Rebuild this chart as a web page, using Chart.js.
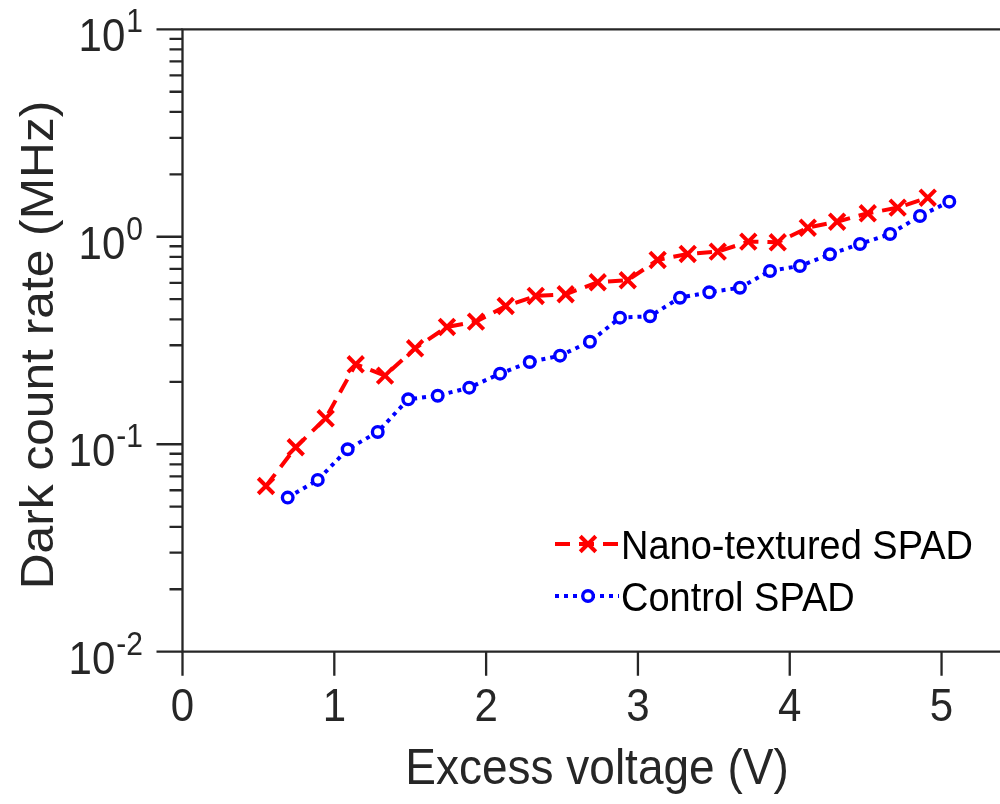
<!DOCTYPE html>
<html>
<head>
<meta charset="utf-8">
<title>Dark count rate vs excess voltage</title>
<script src="https://cdn.jsdelivr.net/npm/chart.js@4.4.1/dist/chart.umd.min.js"></script>
<style>
  html, body { margin: 0; padding: 0; background: #ffffff; }
  #chart { display: block; }
</style>
</head>
<body>
<canvas id="chart" width="1000" height="804"></canvas>
<script>
// values (x in V, y in MHz)
const nanoX = [0.550, 0.746, 0.943, 1.141, 1.334, 1.532, 1.742, 1.933, 2.129, 2.327, 2.524, 2.735,
               2.933, 3.130, 3.328, 3.526, 3.727, 3.921, 4.119, 4.312, 4.514, 4.711, 4.909];
const nanoY = [0.0629, 0.0967, 0.1334, 0.2429, 0.2141, 0.2901, 0.3674, 0.3897, 0.4638, 0.5184, 0.5283, 0.6036,
               0.6171, 0.7731, 0.8263, 0.8476, 0.9471, 0.9408, 1.106, 1.182, 1.298, 1.381, 1.543];

const controlX = [0.693, 0.891, 1.088, 1.286, 1.487, 1.681, 1.889, 2.092, 2.287, 2.487, 2.684, 2.882,
                  3.080, 3.277, 3.470, 3.672, 3.870, 4.067, 4.265, 4.463, 4.661, 4.858, 5.051];
const controlY = [0.0553, 0.0673, 0.0946, 0.1146, 0.1647, 0.1714, 0.1874, 0.2189, 0.2491, 0.2673, 0.3120, 0.4074,
                  0.4138, 0.5086, 0.5401, 0.5683, 0.6842, 0.7235, 0.8234, 0.9232, 1.0316, 1.2596, 1.4763];

const seriesNames = ["Nano-textured SPAD", "Control SPAD"];
const xTicks = [0, 1, 2, 3, 4, 5];
const yDecades = [-2, -1, 0, 1];
const xTitle = "Excess voltage (V)";
const yTitle = "Dark count rate (MHz)";

const FONT = "'Liberation Sans', Arial, Helvetica, sans-serif";
const AXIS_COLOR = "#262626";
const TEXT_STRETCH = 1.08; // the original figure's text is a bit taller than wide

function toPoints(xs, ys) {
    return xs.map((x, i) => ({ x: x, y: ys[i] }));
}

function tallText(ctx, text, x, y, rotate) {
    ctx.save();
    ctx.translate(x, y);
    ctx.scale(1, TEXT_STRETCH);
    if (rotate) ctx.rotate(-Math.PI / 2);
    ctx.fillText(text, 0, 0);
    ctx.restore();
}

// draws axes box, ticks, tick labels, titles and legend
const matlabAxes = {
    id: "matlabAxes",
    afterDraw(chart) {
        const ctx = chart.ctx;
        const area = chart.chartArea;
        const xs = chart.scales.x;
        const ys = chart.scales.y;

        ctx.save();
        ctx.strokeStyle = AXIS_COLOR;
        ctx.lineWidth = 2.3;
        ctx.setLineDash([]);
        ctx.lineCap = "butt";

        // box lines (no right side)
        ctx.beginPath();
        ctx.moveTo(area.left, area.top);
        ctx.lineTo(1000, area.top);
        ctx.moveTo(area.left, area.bottom);
        ctx.lineTo(1000, area.bottom);
        ctx.moveTo(area.left, area.top - 1);
        ctx.lineTo(area.left, area.bottom + 1);
        ctx.stroke();

        // y ticks, major + minor
        ctx.beginPath();
        yDecades.forEach((d) => {
            const py = ys.getPixelForValue(Math.pow(10, d));
            ctx.moveTo(area.left - 26, py);
            ctx.lineTo(area.left, py);
            if (d < 1) {
                for (let m = 2; m <= 9; m++) {
                    const pm = ys.getPixelForValue(m * Math.pow(10, d));
                    ctx.moveTo(area.left - 13, pm);
                    ctx.lineTo(area.left, pm);
                }
            }
        });
        // x ticks
        xTicks.forEach((t) => {
            const px = xs.getPixelForValue(t);
            ctx.moveTo(px, area.bottom);
            ctx.lineTo(px, area.bottom + 24);
        });
        ctx.stroke();

        ctx.fillStyle = AXIS_COLOR;

        // x tick labels
        ctx.font = "42px " + FONT;
        ctx.textAlign = "center";
        ctx.textBaseline = "alphabetic";
        xTicks.forEach((t) => {
            tallText(ctx, String(t), xs.getPixelForValue(t), 721);
        });

        // y tick labels 10^n
        yDecades.forEach((d) => {
            const py = ys.getPixelForValue(Math.pow(10, d));
            const expText = d < 0 ? "-" + Math.abs(d) : String(d);
            ctx.font = "30px " + FONT;
            const expW = ctx.measureText(expText).width;
            const right = 143;
            ctx.textAlign = "left";
            tallText(ctx, expText, right - expW, py + 3);
            ctx.font = "42px " + FONT;
            ctx.textAlign = "right";
            tallText(ctx, "10", right - expW - 1, py + 22);
        });

        // axis titles
        ctx.font = "46px " + FONT;
        ctx.textAlign = "center";
        tallText(ctx, xTitle, 597, 784);
        tallText(ctx, yTitle, 53, 345, true);

        // legend
        const rows = [
            { ds: chart.data.datasets[0], y: 544, base: 559 },
            { ds: chart.data.datasets[1], y: 596, base: 611 }
        ];
        rows.forEach((r, i) => {
            const ds = r.ds;
            ctx.strokeStyle = ds.borderColor;
            ctx.lineWidth = ds.borderWidth;
            ctx.setLineDash(ds.borderDash);
            ctx.beginPath();
            ctx.moveTo(555, r.y);
            ctx.lineTo(619, r.y);
            ctx.stroke();
            ctx.setLineDash([]);
            const cx = 588;
            ctx.lineWidth = ds.pointBorderWidth;
            ctx.beginPath();
            if (ds.pointStyle === "crossRot") {
                const h = ds.pointRadius * Math.SQRT1_2;
                ctx.moveTo(cx - h, r.y - h);
                ctx.lineTo(cx + h, r.y + h);
                ctx.moveTo(cx - h, r.y + h);
                ctx.lineTo(cx + h, r.y - h);
                ctx.stroke();
            } else {
                ctx.arc(cx, r.y, ds.pointRadius, 0, Math.PI * 2);
                ctx.fillStyle = ds.pointBackgroundColor;
                ctx.fill();
                ctx.stroke();
            }
            ctx.fillStyle = "#000000";
            ctx.font = "38px " + FONT;
            ctx.textAlign = "left";
            tallText(ctx, seriesNames[i], 621, r.base);
        });

        ctx.restore();
    }
};

new Chart(document.getElementById("chart"), {
    type: "scatter",
    data: {
        datasets: [
            {
                label: seriesNames[0],
                data: toPoints(nanoX, nanoY),
                showLine: true,
                borderColor: "#ff0000",
                backgroundColor: "#ff0000",
                borderWidth: 4,
                borderDash: [15, 9],
                borderCapStyle: "butt",
                pointStyle: "crossRot",
                pointRadius: 11,
                pointBorderWidth: 4,
                pointBorderColor: "#ff0000",
                pointBackgroundColor: "#ff0000",
                tension: 0
            },
            {
                label: seriesNames[1],
                data: toPoints(controlX, controlY),
                showLine: true,
                borderColor: "#0000ff",
                backgroundColor: "#ffffff",
                borderWidth: 4,
                borderDash: [4, 5],
                borderCapStyle: "butt",
                pointStyle: "circle",
                pointRadius: 5.3,
                pointBorderWidth: 3.4,
                pointBorderColor: "#0000ff",
                pointBackgroundColor: "#ffffff",
                tension: 0
            }
        ]
    },
    options: {
        responsive: false,
        animation: false,
        devicePixelRatio: 1,
        layout: {
            autoPadding: false,
            padding: { left: 182.5, top: 29.3, right: 0, bottom: 152.3 }
        },
        scales: {
            x: { type: "linear", min: 0, max: 5.385, display: false },
            y: { type: "logarithmic", min: 0.01, max: 10, display: false }
        },
        plugins: {
            legend: { display: false },
            tooltip: { enabled: false }
        }
    },
    plugins: [matlabAxes]
});
</script>
</body>
</html>
